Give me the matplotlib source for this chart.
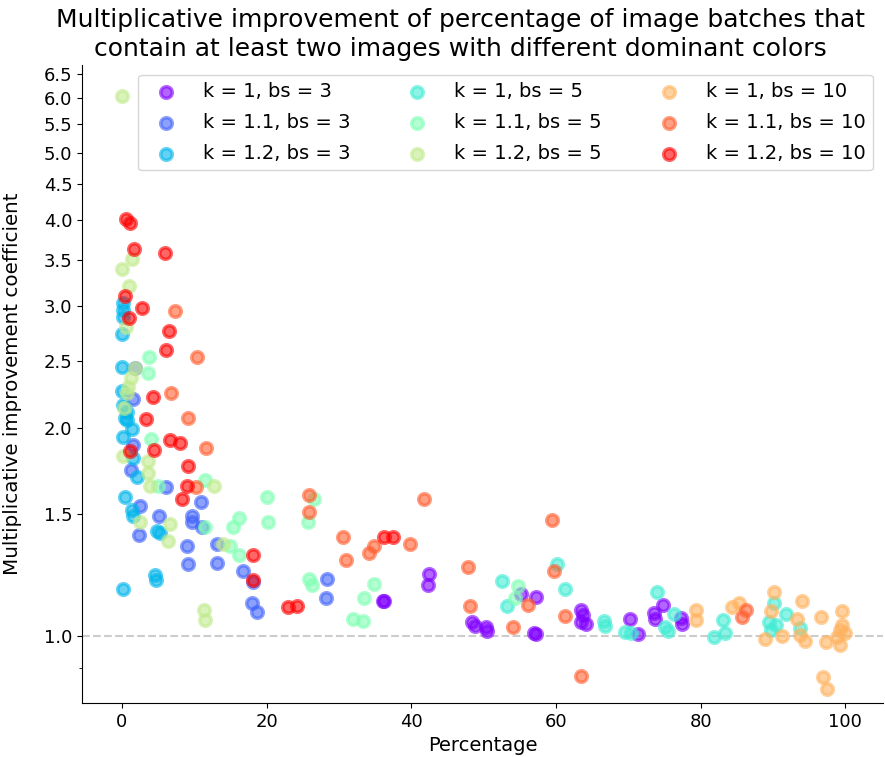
import numpy as np
import matplotlib
matplotlib.use("Agg")
import matplotlib.pyplot as plt
from matplotlib.ticker import NullFormatter

labels = ["k = 1, bs = 3", "k = 1.1, bs = 3", "k = 1.2, bs = 3",
          "k = 1, bs = 5", "k = 1.1, bs = 5", "k = 1.2, bs = 5",
          "k = 1, bs = 10", "k = 1.1, bs = 10", "k = 1.2, bs = 10"]

# k=1, bs=3
x_a = [36.1, 36.3, 42.5, 42.3, 48.4, 48.8, 50.3, 50.5, 57.2, 55.2, 56.9, 57.2,
       63.5, 63.8, 63.5, 64.1, 70.3, 71.4, 73.6, 73.7, 74.8, 77.3, 77.4]
y_a = [1.124, 1.125, 1.23, 1.185, 1.048, 1.034, 1.03, 1.017, 1.139, 1.15, 1.01, 1.007,
       1.09, 1.072, 1.048, 1.041, 1.058, 1.007, 1.08, 1.058, 1.11, 1.062, 1.041]
# k=1.1, bs=3
x_b = [1.83, 1.56, 1.56, 1.28, 2.5, 2.4, 6.1, 5.1, 10.9, 9.7, 9.7, 11.1, 9.0, 9.1,
       13.1, 13.1, 16.8, 18.1, 18.0, 18.65, 28.4, 28.15]
y_b = [2.44, 2.20, 1.89, 1.74, 1.54, 1.40, 1.64, 1.49, 1.56, 1.49, 1.46, 1.44, 1.35, 1.27,
       1.36, 1.275, 1.24, 1.197, 1.116, 1.083, 1.21, 1.135]
# k=1.2, bs=3
x_c = [0.18, 0.18, 0.18, 0.04, 0.04, 0.04, 0.18, 0.73, 0.45, 0.73, 1.42, 0.18, 1.56,
       2.1, 0.45, 1.42, 1.56, 4.86, 5.3, 4.6, 4.7, 0.18]
y_c = [3.03, 2.96, 2.89, 2.73, 2.45, 2.26, 2.16, 2.11, 2.07, 2.05, 1.99, 1.94, 1.81,
       1.70, 1.59, 1.52, 1.49, 1.42, 1.41, 1.225, 1.205, 1.17]
# k=1, bs=5
x_d = [52.5, 53.3, 60.1, 61.3, 66.6, 66.8, 69.6, 70.4, 74.0, 75.1, 75.5, 76.35,
       83.1, 83.4, 81.9, 90.1, 89.4, 90.4, 91.8, 93.7, 89.7]
y_d = [1.20, 1.105, 1.27, 1.17, 1.05, 1.034, 1.013, 1.01, 1.158, 1.03, 1.017, 1.076,
       1.055, 1.01, 0.997, 1.116, 1.048, 1.037, 1.076, 1.027, 1.02]
# k=1.1, bs=5
x_e = [3.8, 3.6, 4.0, 5.0, 11.5, 20.0, 20.15, 16.2, 15.3, 11.5, 14.9, 16.2, 26.5,
       25.7, 25.9, 26.35, 31.9, 33.4, 33.5, 34.9, 54.7, 54.3]
y_e = [2.53, 2.40, 1.93, 1.65, 1.68, 1.59, 1.46, 1.48, 1.44, 1.44, 1.35, 1.31, 1.58,
       1.46, 1.21, 1.185, 1.06, 1.05, 1.135, 1.19, 1.18, 1.135]
# k=1.2, bs=5
x_f = [0.0, 1.42, 0.04, 1.0, 0.6, 1.83, 1.28, 0.87, 0.73, 0.32, 0.18, 3.6, 3.6, 3.9,
       12.7, 2.5, 6.65, 6.4, 14.0, 11.3, 11.5]
y_f = [6.05, 3.51, 3.40, 3.21, 2.80, 2.44, 2.36, 2.29, 2.25, 2.14, 1.82, 1.79, 1.72,
       1.65, 1.65, 1.46, 1.45, 1.37, 1.36, 1.09, 1.055]
# k=1, bs=10
x_g = [79.3, 79.3, 84.3, 85.3, 90.1, 89.7, 88.9, 91.2, 94.0, 93.3, 93.8, 94.4, 96.7,
       97.3, 96.9, 97.4, 99.5, 99.6, 99.2, 98.9, 99.3, 99.9]
y_g = [1.09, 1.055, 1.10, 1.116, 1.158, 1.087, 0.99, 1.0, 1.124, 1.06, 1.003, 0.983,
       1.065, 0.98, 0.872, 0.838, 1.087, 1.037, 1.02, 0.997, 0.97, 1.01]
# k=1.1, bs=10
x_h = [7.34, 10.4, 6.8, 9.13, 11.6, 10.2, 25.9, 25.9, 30.5, 31.0, 34.2, 34.9, 39.85,
       41.8, 47.8, 48.1, 59.4, 59.8, 56.1, 54.0, 61.3, 63.4, 86.3, 85.7]
y_h = [2.95, 2.53, 2.25, 2.07, 1.87, 1.64, 1.60, 1.51, 1.39, 1.29, 1.32, 1.35, 1.36,
       1.58, 1.26, 1.105, 1.47, 1.24, 1.11, 1.03, 1.07, 0.875, 1.09, 1.065]
# k=1.2, bs=10
x_i = [0.59, 1.14, 1.69, 5.96, 0.45, 2.80, 1.0, 6.5, 6.1, 4.3, 3.35, 6.65, 8.0, 4.45,
       1.14, 9.1, 9.0, 8.3, 18.1, 18.1, 22.9, 24.15, 36.3, 37.5]
y_i = [4.01, 3.96, 3.63, 3.58, 3.10, 2.98, 2.88, 2.76, 2.59, 2.22, 2.06, 1.92, 1.90, 1.86,
       1.85, 1.76, 1.65, 1.58, 1.31, 1.205, 1.10, 1.105, 1.39, 1.39]

xs = [x_a, x_b, x_c, x_d, x_e, x_f, x_g, x_h, x_i]
ys = [y_a, y_b, y_c, y_d, y_e, y_f, y_g, y_h, y_i]

yticks = [1.0, 1.5, 2.0, 2.5, 3.0, 3.5, 4.0, 4.5, 5.0, 5.5, 6.0, 6.5]
xticks = [0, 20, 40, 60, 80, 100]

colors = plt.cm.rainbow(np.linspace(0, 1, 9))

fig = plt.figure(figsize=(8.85, 7.57), dpi=100)
ax = fig.add_axes([0.0927, 0.0713, 0.905, 0.843])

for xv, yv, c, lab in zip(xs, ys, colors, labels):
    ax.scatter(xv, yv, color=c, alpha=0.6, s=70, linewidths=2.5, label=lab)

ax.axhline(1.0, color="#cccccc", linestyle="--", linewidth=1.5, zorder=0)

ax.set_yscale("log")
ax.set_ylim(0.80, 6.70)
ax.set_xlim(-5.5, 105.2)
ax.set_yticks(yticks)
ax.set_yticklabels(["%.1f" % v for v in yticks])
ax.set_yticks([0.9], minor=True)
ax.yaxis.set_minor_formatter(NullFormatter())
ax.set_xticks(xticks)
ax.tick_params(axis="both", labelsize=13)

ax.spines["top"].set_visible(False)
ax.spines["right"].set_visible(False)

ax.set_xlabel("Percentage", fontsize=14)
ax.set_ylabel("Multiplicative improvement coefficient", fontsize=14.3)
ax.yaxis.set_label_coords(-0.075, 0.5)

fig.text(0.52, 0.989,
         "Multiplicative improvement of percentage of image batches that\n"
         "contain at least two images with different dominant colors",
         fontsize=18, ha="center", va="top", linespacing=1.25)

ax.legend(ncol=3, loc="upper right", fontsize=14, columnspacing=2.45,
          handletextpad=0.9, labelspacing=0.6)

fig.savefig("out.png", dpi=100)
